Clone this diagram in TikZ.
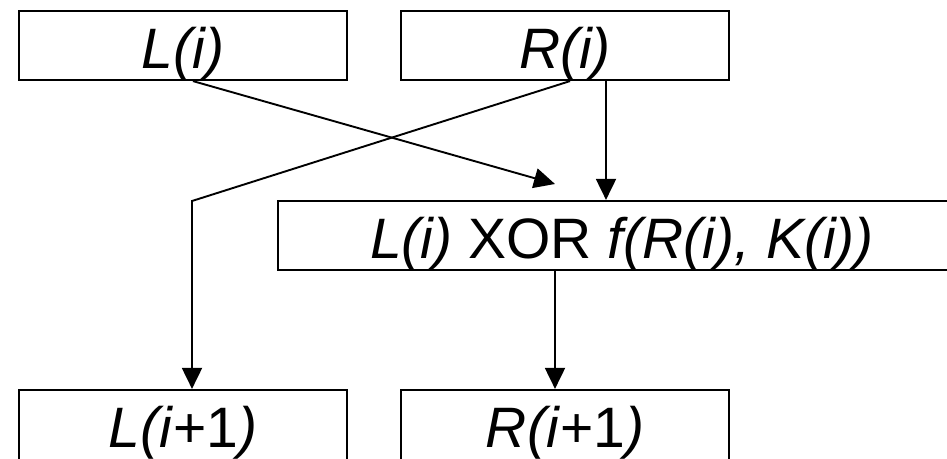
\documentclass[tikz,border=0pt]{standalone}
\usepackage{fontspec}
\setmainfont{Liberation Sans}
\usetikzlibrary{arrows.meta}
\begin{document}
\begin{tikzpicture}[x=1pt,y=-1pt,
  blk/.style={draw=black, line width=2.2pt, minimum height=69pt, inner sep=0pt,
    text height=45pt, text depth=0pt, font=\fontsize{57}{60}\selectfont},
  lowblk/.style={blk, minimum height=75pt, text height=39pt},
  conn/.style={line width=1.9pt, -{Triangle[length=21pt,width=20pt]}}]
\useasboundingbox (0,0) rectangle (947,458);
\clip (0,0) rectangle (947,458);
\node[blk, minimum width=328pt] (Li) at (183,45.5) {\textit{L(i)}};
\node[blk, minimum width=328pt] (Ri) at (565,45.5) {\textit{R(i)}};
\node[blk, minimum width=688pt] (X) at (622,235.5) {\textit{L(i)} XOR \textit{f(R(i), K(i))}};
\node[lowblk, minimum width=328pt] (Ln) at (183,427.5) {\textit{L(i}+1\textit{)}};
\node[lowblk, minimum width=328pt] (Rn) at (565,427.5) {\textit{R(i}+1\textit{)}};
\coordinate (tipA) at (555,184);
\coordinate (bend) at (192,201);
\draw[conn] ([xshift=10pt]Li.south) -- (tipA);
\draw[conn] ([xshift=5pt]Ri.south) -- (bend) -- (bend |- Ln.north);
\draw[conn] ([xshift=41pt]Ri.south) -- ([xshift=41pt]Ri.south |- X.north);
\draw[conn] ([xshift=-67pt]X.south) -- ([xshift=-67pt]X.south |- Rn.north);
\end{tikzpicture}
\end{document}
